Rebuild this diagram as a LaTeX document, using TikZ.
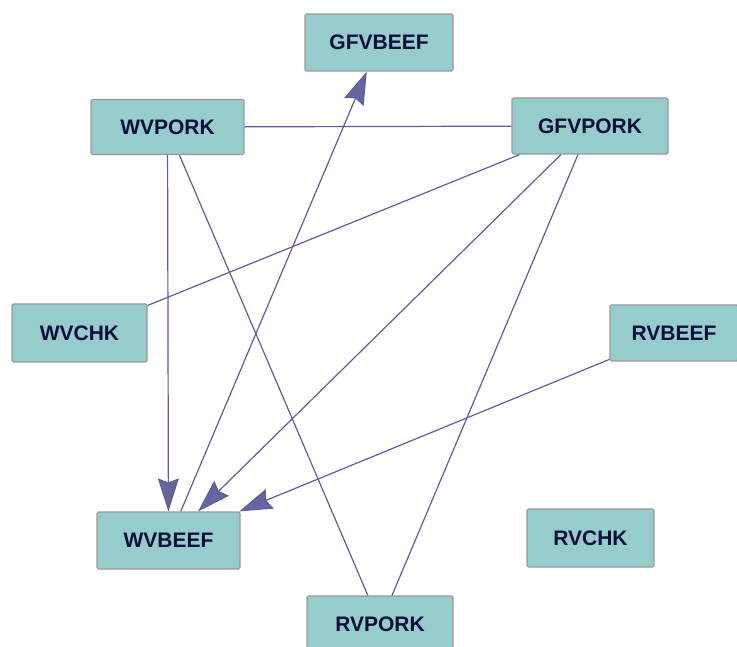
\documentclass[tikz,border=0pt]{standalone}
\usepackage{fontspec}
\setmainfont{Liberation Sans}
\usetikzlibrary{arrows.meta}
\definecolor{boxfill}{HTML}{96CCCC}
\definecolor{boxline}{HTML}{9A9A9A}
\definecolor{txt}{HTML}{0E0E3C}
\definecolor{edge}{HTML}{5E5E9C}
\definecolor{tip}{HTML}{66669E}
\tikzset{
  vbox/.style={draw=boxline, line width=1.2pt, fill=boxfill, rounded corners=1.5pt,
    inner sep=0pt, font=\fontsize{21}{21}\selectfont\bfseries, text=txt},
  link/.style={draw=edge, line width=1.2pt},
  arr/.style={link, -{Stealth[length=33pt, width=21pt, inset=4pt, fill=tip]}}
}
\begin{document}
\begin{tikzpicture}[x=1pt,y=-1pt]
\useasboundingbox (0,0) rectangle (737,647);
\node[vbox, minimum width=148pt, minimum height=57pt] (gfvbeef) at (379,42.5) {GFVBEEF};
\node[vbox, minimum width=153pt, minimum height=55pt] (wvpork) at (167.5,127) {WVPORK};
\node[vbox, minimum width=156pt, minimum height=56pt] (gfvpork) at (590,126) {GFVPORK};
\node[vbox, minimum width=135pt, minimum height=58pt] (wvchk) at (79.5,333) {WVCHK};
\node[vbox, minimum width=128pt, minimum height=56pt] (rvbeef) at (674,333) {RVBEEF};
\node[vbox, minimum width=143pt, minimum height=57pt] (wvbeef) at (168.5,540.5) {WVBEEF};
\node[vbox, minimum width=127pt, minimum height=58pt] (rvchk) at (590.5,538) {RVCHK};
\node[vbox, minimum width=146pt, minimum height=56pt] (rvpork) at (380,624) {RVPORK};

\draw[link] (wvpork) -- (gfvpork);
\draw[link] (wvpork) -- (rvpork);
\draw[link] (gfvpork) -- (wvchk);
\draw[link] (gfvpork) -- (rvpork);
\draw[arr] (wvpork) -- (wvbeef);
\draw[arr] (wvbeef) -- (gfvbeef);
\draw[arr] (gfvpork) -- (wvbeef);
\draw[arr] (rvbeef) -- (wvbeef);
\end{tikzpicture}
\end{document}
